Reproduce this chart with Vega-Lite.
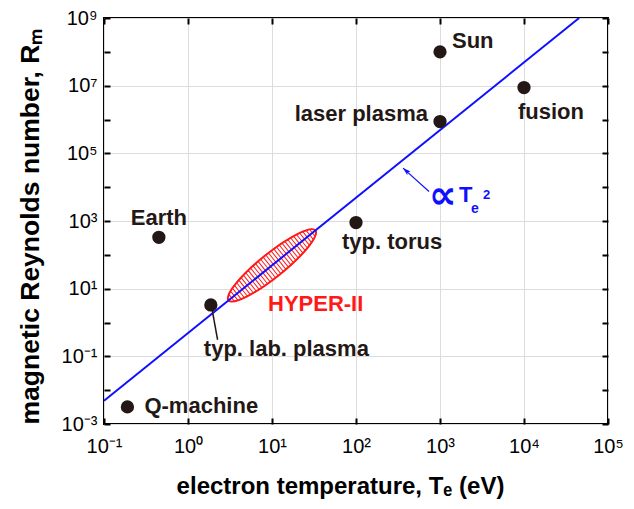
{
  "$schema": "https://vega.github.io/schema/vega-lite/v6.json",
  "width": 504,
  "height": 406,
  "autosize": "none",
  "padding": {"left": 104, "top": 18, "right": 26, "bottom": 85},
  "background": "white",
  "datasets": {
    "points": [
      {"name": "Q-machine", "Te": 0.19, "Rm": 0.0032},
      {"name": "typ. lab. plasma", "Te": 1.87, "Rm": 3.3},
      {"name": "Earth", "Te": 0.45, "Rm": 330},
      {"name": "typ. torus", "Te": 100, "Rm": 900},
      {"name": "laser plasma", "Te": 1000, "Rm": 870000},
      {"name": "Sun", "Te": 1000, "Rm": 100000000},
      {"name": "fusion", "Te": 10000, "Rm": 8800000}
    ],
    "line": [
      {"Te": 0.1, "Rm": 0.00488},
      {"Te": 45300, "Rm": 1000000000}
    ],
    "hyper": [
      {"Te": 10, "Rm": 48.8, "label": "HYPER-II"}
    ],
    "arrow": [
      {"Te": 740, "Rm": 7440, "Te2": 363, "Rm2": 36560}
    ],
    "leader": [
      {"Te": 1.94, "Rm": 2.38, "Te2": 2.25, "Rm2": 0.309}
    ]
  },
  "config": {
    "view": {"stroke": "#000000", "strokeWidth": 2},
    "font": "Liberation Sans",
    "axis": {"labelFont": "Liberation Sans", "titleFont": "Liberation Sans", "labelColor": "#000000", "titleColor": "#000000"}
  },
  "resolve": {"axis": {"x": "independent", "y": "independent"}},
  "layer": [
    {
      "data": {"name": "hyper"},
      "mark": {
        "type": "point",
        "shape": "M-1,0C-1,-0.1187,-0.5523,-0.215,0,-0.215C0.5523,-0.215,1,-0.1187,1,0C1,0.1187,0.5523,0.215,0,0.215C-0.5523,0.215,-1,0.1187,-1,0ZM-0.93,-0.079L-0.93,0.079M-0.87,-0.106L-0.87,0.106M-0.81,-0.1261L-0.81,0.1261M-0.75,-0.1422L-0.75,0.1422M-0.69,-0.1556L-0.69,0.1556M-0.63,-0.167L-0.63,0.167M-0.57,-0.1767L-0.57,0.1767M-0.51,-0.1849L-0.51,0.1849M-0.45,-0.192L-0.45,0.192M-0.39,-0.198L-0.39,0.198M-0.33,-0.203L-0.33,0.203M-0.27,-0.207L-0.27,0.207M-0.21,-0.2102L-0.21,0.2102M-0.15,-0.2126L-0.15,0.2126M-0.09,-0.2141L-0.09,0.2141M-0.03,-0.2149L-0.03,0.2149M0.03,-0.2149L0.03,0.2149M0.09,-0.2141L0.09,0.2141M0.15,-0.2126L0.15,0.2126M0.21,-0.2102L0.21,0.2102M0.27,-0.207L0.27,0.207M0.33,-0.203L0.33,0.203M0.39,-0.198L0.39,0.198M0.45,-0.192L0.45,0.192M0.51,-0.1849L0.51,0.1849M0.57,-0.1767L0.57,0.1767M0.63,-0.167L0.63,0.167M0.69,-0.1556L0.69,0.1556M0.75,-0.1422L0.75,0.1422M0.81,-0.1261L0.81,0.1261M0.87,-0.106L0.87,0.106M0.93,-0.079L0.93,0.079",
        "size": 12410,
        "angle": 321.2,
        "filled": false,
        "fill": "#ffffff",
        "fillOpacity": 1,
        "stroke": "#ff1a1a",
        "strokeWidth": 1,
        "opacity": 1
      },
      "encoding": {
        "x": {
          "field": "Te", "type": "quantitative",
          "scale": {"type": "log", "domain": [0.1, 100000], "nice": false},
          "axis": {
            "orient": "bottom",
            "values": [0.1, 1, 10, 100, 1000, 10000, 100000],
            "labelExpr": "'10' + (round(log(datum.value)/LN10) < 0 ? '⁻' : '') + substring('⁰¹²³⁴⁵⁶⁷⁸⁹', abs(round(log(datum.value)/LN10)), abs(round(log(datum.value)/LN10)) + 1)",
            "labelFontSize": 20,
            "labelPadding": 18,
            "labelBaseline": "top",
            "labelFlush": false,
            "labelOverlap": false,
            "tickSize": -6,
            "tickWidth": 2,
            "tickColor": "#000000",
            "domain": false,
            "grid": true,
            "gridColor": "#dcdcdc",
            "gridWidth": 1,
            "title": "electron temperature, Tₑ (eV)",
            "titleFontSize": 24,
            "titleFontWeight": "bold",
            "titleX": 236,
            "titleY": 69,
            "titleAlign": "center",
            "titleBaseline": "alphabetic"
          }
        },
        "y": {
          "field": "Rm", "type": "quantitative",
          "scale": {"type": "log", "domain": [0.001, 1000000000], "nice": false},
          "axis": {
            "orient": "left",
            "values": [0.001, 0.01, 0.1, 1, 10, 100, 1000, 10000, 100000, 1000000, 10000000, 100000000, 1000000000],
            "labelExpr": "abs(round(log(datum.value)/LN10)) % 2 == 1 ? ('10' + (round(log(datum.value)/LN10) < 0 ? '⁻' : '') + substring('⁰¹²³⁴⁵⁶⁷⁸⁹', abs(round(log(datum.value)/LN10)), abs(round(log(datum.value)/LN10)) + 1)) : ''",
            "labelFontSize": 20,
            "labelPadding": 13,
            "labelAlign": "right",
            "labelBaseline": "middle",
            "labelFlush": false,
            "labelOverlap": false,
            "tickSize": -6,
            "tickWidth": 2,
            "tickColor": "#000000",
            "domain": false,
            "grid": true,
            "gridColor": "#dcdcdc",
            "gridWidth": 1,
            "gridOpacity": {"condition": {"test": "abs(round(log(datum.value)/LN10)) % 2 == 1", "value": 1}, "value": 0},
            "title": "magnetic Reynolds number, Rₘ",
            "titleFontSize": 26.5,
            "titleFontWeight": "bold",
            "titleAngle": 270,
            "titleX": -66,
            "titleY": 208,
            "titleAlign": "center",
            "titleBaseline": "alphabetic"
          }
        }
      }
    },
    {
      "data": {"name": "hyper"},
      "mark": {
        "type": "point",
        "shape": "M-1,0C-1,-0.1187,-0.5523,-0.215,0,-0.215C0.5523,-0.215,1,-0.1187,1,0C1,0.1187,0.5523,0.215,0,0.215C-0.5523,0.215,-1,0.1187,-1,0Z",
        "size": 12410,
        "angle": 321.2,
        "filled": false,
        "stroke": "#ff1a1a",
        "strokeWidth": 2,
        "opacity": 1
      },
      "encoding": {
        "x": {
          "field": "Te", "type": "quantitative",
          "axis": {
            "orient": "top",
            "values": [0.1, 1, 10, 100, 1000, 10000, 100000],
            "labels": false,
            "tickSize": -6,
            "tickWidth": 2,
            "tickColor": "#000000",
            "domain": false,
            "grid": false,
            "title": null
          }
        },
        "y": {
          "field": "Rm", "type": "quantitative",
          "axis": {
            "orient": "right",
            "values": [0.001, 0.01, 0.1, 1, 10, 100, 1000, 10000, 100000, 1000000, 10000000, 100000000, 1000000000],
            "labels": false,
            "tickSize": -6,
            "tickWidth": 2,
            "tickColor": "#000000",
            "domain": false,
            "grid": false,
            "title": null
          }
        }
      }
    },
    {
      "data": {"name": "line"},
      "mark": {"type": "line", "color": "#1010ff", "strokeWidth": 2, "clip": true},
      "encoding": {
        "x": {"field": "Te", "type": "quantitative", "axis": null},
        "y": {"field": "Rm", "type": "quantitative", "axis": null}
      }
    },
    {
      "data": {"name": "leader"},
      "mark": {"type": "rule", "color": "#231815", "strokeWidth": 1.5},
      "encoding": {
        "x": {"field": "Te", "type": "quantitative", "axis": null},
        "y": {"field": "Rm", "type": "quantitative", "axis": null},
        "x2": {"field": "Te2"},
        "y2": {"field": "Rm2"}
      }
    },
    {
      "data": {"name": "points"},
      "mark": {"type": "circle", "size": 177, "color": "#231815", "opacity": 1},
      "encoding": {
        "x": {"field": "Te", "type": "quantitative", "axis": null},
        "y": {"field": "Rm", "type": "quantitative", "axis": null}
      }
    },
    {
      "data": {"name": "points"},
      "transform": [{"filter": "datum.name == 'Sun'"}],
      "mark": {"type": "text", "dx": 12, "dy": -4, "align": "left", "baseline": "alphabetic", "fontSize": 22, "fontWeight": "bold", "color": "#231815"},
      "encoding": {
        "x": {"field": "Te", "type": "quantitative", "axis": null},
        "y": {"field": "Rm", "type": "quantitative", "axis": null},
        "text": {"field": "name"}
      }
    },
    {
      "data": {"name": "points"},
      "transform": [{"filter": "datum.name == 'fusion'"}],
      "mark": {"type": "text", "dx": -6, "dy": 31, "align": "left", "baseline": "alphabetic", "fontSize": 22, "fontWeight": "bold", "color": "#231815"},
      "encoding": {
        "x": {"field": "Te", "type": "quantitative", "axis": null},
        "y": {"field": "Rm", "type": "quantitative", "axis": null},
        "text": {"field": "name"}
      }
    },
    {
      "data": {"name": "points"},
      "transform": [{"filter": "datum.name == 'laser plasma'"}],
      "mark": {"type": "text", "dx": -12, "dy": -1, "align": "right", "baseline": "alphabetic", "fontSize": 22, "fontWeight": "bold", "color": "#231815"},
      "encoding": {
        "x": {"field": "Te", "type": "quantitative", "axis": null},
        "y": {"field": "Rm", "type": "quantitative", "axis": null},
        "text": {"field": "name"}
      }
    },
    {
      "data": {"name": "points"},
      "transform": [{"filter": "datum.name == 'typ. torus'"}],
      "mark": {"type": "text", "dx": -14, "dy": 26, "align": "left", "baseline": "alphabetic", "fontSize": 22, "fontWeight": "bold", "color": "#231815"},
      "encoding": {
        "x": {"field": "Te", "type": "quantitative", "axis": null},
        "y": {"field": "Rm", "type": "quantitative", "axis": null},
        "text": {"field": "name"}
      }
    },
    {
      "data": {"name": "points"},
      "transform": [{"filter": "datum.name == 'Earth'"}],
      "mark": {"type": "text", "dx": 0, "dy": -12, "align": "center", "baseline": "alphabetic", "fontSize": 22, "fontWeight": "bold", "color": "#231815"},
      "encoding": {
        "x": {"field": "Te", "type": "quantitative", "axis": null},
        "y": {"field": "Rm", "type": "quantitative", "axis": null},
        "text": {"field": "name"}
      }
    },
    {
      "data": {"name": "points"},
      "transform": [{"filter": "datum.name == 'Q-machine'"}],
      "mark": {"type": "text", "dx": 17, "dy": 6, "align": "left", "baseline": "alphabetic", "fontSize": 22, "fontWeight": "bold", "color": "#231815"},
      "encoding": {
        "x": {"field": "Te", "type": "quantitative", "axis": null},
        "y": {"field": "Rm", "type": "quantitative", "axis": null},
        "text": {"field": "name"}
      }
    },
    {
      "data": {"name": "points"},
      "transform": [{"filter": "datum.name == 'typ. lab. plasma'"}],
      "mark": {"type": "text", "dx": -7, "dy": 51, "align": "left", "baseline": "alphabetic", "fontSize": 22, "fontWeight": "bold", "color": "#231815"},
      "encoding": {
        "x": {"field": "Te", "type": "quantitative", "axis": null},
        "y": {"field": "Rm", "type": "quantitative", "axis": null},
        "text": {"field": "name"}
      }
    },
    {
      "data": {"name": "hyper"},
      "mark": {"type": "text", "dx": -4, "dy": 46, "align": "left", "baseline": "alphabetic", "fontSize": 22, "fontWeight": "bold", "color": "#ff1a1a"},
      "encoding": {
        "x": {"field": "Te", "type": "quantitative", "axis": null},
        "y": {"field": "Rm", "type": "quantitative", "axis": null},
        "text": {"field": "label"}
      }
    },
    {
      "data": {"name": "arrow"},
      "mark": {"type": "rule", "color": "#1010ff", "strokeWidth": 1.2},
      "encoding": {
        "x": {"field": "Te", "type": "quantitative", "axis": null},
        "y": {"field": "Rm", "type": "quantitative", "axis": null},
        "x2": {"field": "Te2"},
        "y2": {"field": "Rm2"}
      }
    },
    {
      "data": {"name": "arrow"},
      "mark": {"type": "point", "shape": "M0,0L0.5,1.6L0,1.2L-0.5,1.6Z", "size": 100, "angle": 312, "filled": true, "color": "#1010ff", "opacity": 1},
      "encoding": {
        "x": {"field": "Te2", "type": "quantitative", "axis": null},
        "y": {"field": "Rm2", "type": "quantitative", "axis": null}
      }
    },
    {
      "data": {"name": "arrow"},
      "mark": {"type": "text", "text": "∝", "dx": 0, "dy": 16, "align": "left", "baseline": "alphabetic", "font": "DejaVu Sans", "fontSize": 39, "fontWeight": "bold", "color": "#1010ff"},
      "encoding": {
        "x": {"field": "Te", "type": "quantitative", "axis": null},
        "y": {"field": "Rm", "type": "quantitative", "axis": null}
      }
    },
    {
      "data": {"name": "arrow"},
      "mark": {"type": "text", "text": "T", "dx": 30, "dy": 10, "align": "left", "baseline": "alphabetic", "fontSize": 22, "fontWeight": "bold", "color": "#1010ff"},
      "encoding": {
        "x": {"field": "Te", "type": "quantitative", "axis": null},
        "y": {"field": "Rm", "type": "quantitative", "axis": null}
      }
    },
    {
      "data": {"name": "arrow"},
      "mark": {"type": "text", "text": "e", "dx": 42, "dy": 21, "align": "left", "baseline": "alphabetic", "fontSize": 14, "fontWeight": "bold", "color": "#1010ff"},
      "encoding": {
        "x": {"field": "Te", "type": "quantitative", "axis": null},
        "y": {"field": "Rm", "type": "quantitative", "axis": null}
      }
    },
    {
      "data": {"name": "arrow"},
      "mark": {"type": "text", "text": "2", "dx": 54, "dy": 7, "align": "left", "baseline": "alphabetic", "fontSize": 13, "fontWeight": "bold", "color": "#1010ff"},
      "encoding": {
        "x": {"field": "Te", "type": "quantitative", "axis": null},
        "y": {"field": "Rm", "type": "quantitative", "axis": null}
      }
    }
  ]
}
